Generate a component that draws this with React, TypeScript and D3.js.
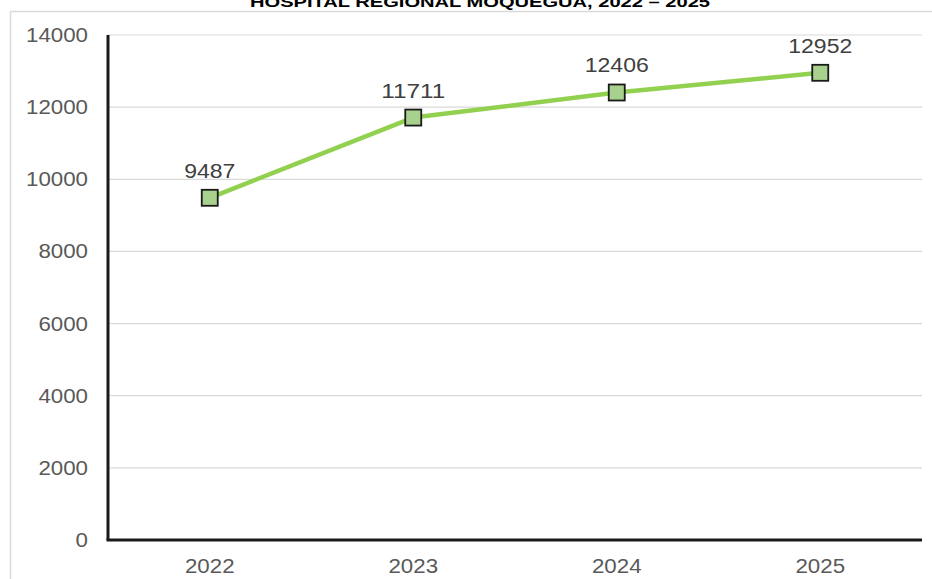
import React from "react";
import * as d3 from "d3";

const years = ["2022", "2023", "2024", "2025"];
const values = [9487, 11711, 12406, 12952];
const yTicks = [0, 2000, 4000, 6000, 8000, 10000, 12000, 14000];
const title = "HOSPITAL REGIONAL MOQUEGUA, 2022 – 2025";

export default function App() {
  const W = 932, H = 579;
  const left = 108, right = 922, top = 35, bottom = 540;
  const x = d3.scalePoint<string>().domain(years).range([left, right]).padding(0.5);
  const y = d3.scaleLinear().domain([0, 14000]).range([bottom, top]);
  const line = d3.line<number>().x((_, i) => x(years[i])!).y((d) => y(d));
  const font = "Liberation Sans, Arial, Helvetica, sans-serif";
  const digitW = 12.4;
  return (
    <svg width={W} height={H} style={{ position: "absolute", left: 0, top: 0, background: "#fff" }}>
      <rect x={0} y={0} width={W} height={H} fill="#fff" />
      <line x1={10.5} y1={11.5} x2={W} y2={11.5} stroke="#d9d9d9" strokeWidth={1.5} />
      <line x1={10.5} y1={11.5} x2={10.5} y2={H} stroke="#d9d9d9" strokeWidth={1.5} />
      <text x={480} y={7} textAnchor="middle" fontFamily="'Liberation Sans Narrow', 'Arial Narrow', Arial, sans-serif" fontWeight="bold" fontSize={15} fill="#000" textLength={460} lengthAdjust="spacingAndGlyphs">{title}</text>
      {yTicks.map((t) => (
        <g key={t}>
          {t > 0 && <line x1={left} x2={right} y1={y(t)} y2={y(t)} stroke="#d9d9d9" strokeWidth={1.2} />}
          <text x={88} y={y(t) + 7} textAnchor="end" fontFamily={font} fontSize={20} fill="#595959" textLength={String(t).length * digitW} lengthAdjust="spacingAndGlyphs">{t}</text>
        </g>
      ))}
      <line x1={left} x2={left} y1={top} y2={bottom} stroke="#1a1a1a" strokeWidth={3} />
      <line x1={left - 1.5} x2={right} y1={bottom} y2={bottom} stroke="#1a1a1a" strokeWidth={3} />
      {years.map((yr) => (
        <text key={yr} x={x(yr)} y={573} textAnchor="middle" fontFamily={font} fontSize={20} fill="#595959" textLength={yr.length * digitW} lengthAdjust="spacingAndGlyphs">{yr}</text>
      ))}
      <path d={line(values)!} fill="none" stroke="#92d050" strokeWidth={4.5} strokeLinejoin="round" />
      {values.map((v, i) => (
        <g key={i}>
          <rect x={x(years[i])! - 8} y={y(v) - 8} width={16} height={16} fill="#a9d18e" stroke="#1a1a1a" strokeWidth={1.8} />
          <text x={x(years[i])} y={y(v) - 20} textAnchor="middle" fontFamily={font} fontSize={20} fill="#404040" textLength={String(v).length * 12.8} lengthAdjust="spacingAndGlyphs">{v}</text>
        </g>
      ))}
    </svg>
  );
}
